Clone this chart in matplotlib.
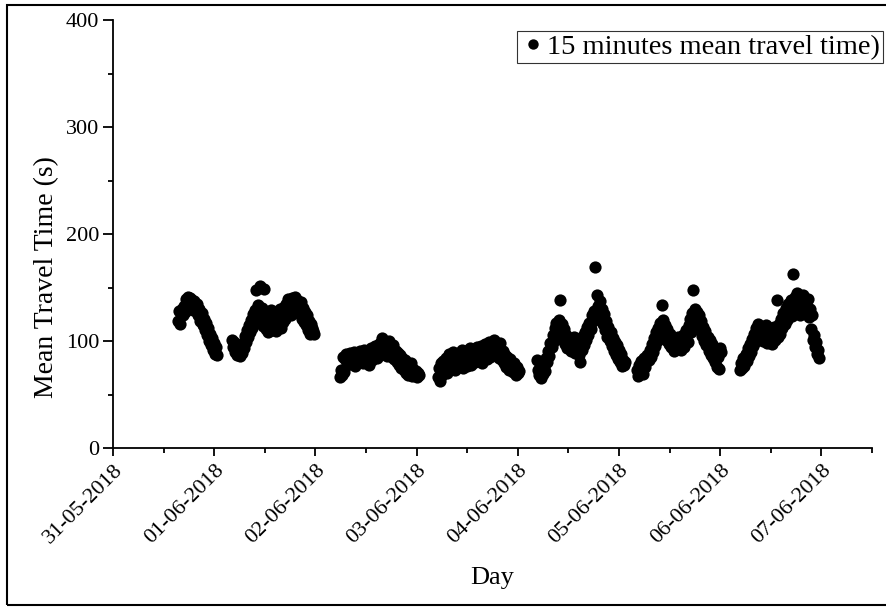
"""
15-minute mean travel time, 31-05-2018 .. 07-06-2018 (Origin-style scatter).
Writes out.png
"""
import numpy as np
import pandas as pd
import matplotlib
matplotlib.use("Agg")
import matplotlib.pyplot as plt
import matplotlib.dates as mdates
from matplotlib.patches import Rectangle

# ── data: one block per day, 15-min samples from the start time ─────────────
STEP = "15min"

start_a = "2018-05-31 15:30"
vals_a = [119, 128, 116, 130, 124, 133, 127, 139, 132, 141, 135, 140, 131, 138, 129, 137,
          132, 128, 135, 124, 130, 119, 126, 115, 121, 110, 117, 106, 112, 100, 107, 96,
          103, 92, 98, 88, 94, 87]

start_b = "2018-06-01 04:15"
vals_b = [101, 94, 99, 90, 96, 87, 92, 86, 95, 89,
          98, 93, 105, 99, 110, 104, 115, 108, 120, 112,
          125, 117, 129, 148, 121, 134, 151, 118, 131, 114,
          149, 123, 111, 127, 108, 124, 115, 129, 110, 121,
          113, 127, 109, 124, 116, 130, 112, 126, 118, 132,
          121, 135, 125, 139, 128, 134, 124, 140, 130, 137,
          141, 129, 138, 133, 125, 136, 121, 131, 118, 127,
          115, 124, 110, 119, 107, 116, 112, 109, 107]

start_c = "2018-06-02 05:45"
vals_c = [66, 73, 68, 85, 71, 83, 88, 78, 86, 81,
          89, 79, 87, 82, 90, 77, 86, 84, 80, 91,
          83, 87, 79, 92, 85, 81, 90, 84, 78, 88,
          93, 82, 89, 86, 95, 84, 91, 97, 87, 99,
          103, 92, 98, 88, 96, 86, 94, 100, 89, 93,
          85, 96, 83, 91, 80, 89, 78, 87, 75, 84,
          79, 73, 82, 70, 77, 68, 75, 71, 79, 67,
          74, 69, 72, 66, 70, 68]

start_d = "2018-06-03 05:00"
vals_d = [66, 75, 63, 79, 68, 81, 72, 77, 84, 70,
          80, 88, 74, 85, 78, 90, 73, 83, 87, 76,
          89, 79, 84, 92, 75, 86, 81, 91, 77, 88,
          83, 93, 78, 87, 90, 80, 85, 94, 82, 89,
          86, 95, 79, 91, 84, 97, 88, 83, 92, 99,
          85, 94, 90, 101, 87, 96, 89, 93, 84, 98,
          88, 82, 91, 79, 87, 76, 85, 80, 73, 83,
          77, 71, 79, 74, 68, 76, 70, 72]

start_e = "2018-06-04 04:30"
vals_e = [82, 73, 68, 79, 65, 75, 69, 77, 72, 84,
          80, 91, 86, 98, 94, 106, 100, 112, 117, 107,
          113, 120, 138, 109, 116, 101, 111, 97, 106, 93,
          103, 98, 91, 100, 95, 104, 89, 99, 94, 102,
          87, 80, 97, 92, 105, 96, 108, 101, 113, 106,
          117, 111, 124, 119, 128, 169, 122, 143, 133, 126,
          137, 121, 130, 116, 125, 110, 119, 104, 113, 100,
          108, 95, 103, 91, 99, 87, 96, 83, 92, 80,
          88, 77, 82, 78, 80]

start_f = "2018-06-05 04:15"
vals_f = [73, 67, 78, 70, 81, 74, 69, 84, 76, 80,
          87, 82, 92, 85, 97, 90, 103, 95, 108, 100,
          112, 104, 117, 109, 134, 120, 106, 115, 101, 111,
          97, 107, 94, 103, 99, 91, 101, 96, 93, 104,
          95, 100, 92, 98, 106, 94, 102, 110, 99, 115,
          121, 108, 126, 148, 118, 130, 114, 127, 120, 124,
          111, 119, 105, 113, 100, 109, 96, 104, 91, 101,
          87, 97, 84, 93, 80, 88, 76, 85, 74, 93, 90]

start_g = "2018-06-06 04:45"
vals_g = [73, 79, 75, 84, 77, 88, 81, 93, 86, 97,
          90, 102, 95, 107, 99, 112, 103, 116, 108, 113,
          104, 111, 100, 109, 115, 98, 107, 112, 102, 110,
          97, 108, 113, 101, 109, 138, 104, 116, 107, 121,
          112, 126, 116, 131, 120, 135, 125, 129, 138, 123,
          163, 132, 141, 127, 145, 130, 137, 124, 140, 131,
          143, 126, 135, 129, 139, 122, 130, 111, 124, 101,
          106, 94, 99, 88, 92, 84]

blocks = [(start_a, vals_a), (start_b, vals_b), (start_c, vals_c), (start_d, vals_d),
          (start_e, vals_e), (start_f, vals_f), (start_g, vals_g)]

frames = [pd.DataFrame({"time": pd.date_range(s, periods=len(v), freq=STEP), "tt": v})
          for s, v in blocks]
df = pd.concat(frames, ignore_index=True)

X_MIN, X_MAX = pd.Timestamp("2018-05-31 00:00"), pd.Timestamp("2018-06-07 12:00")

# ── style ────────────────────────────────────────────────────────────────────
plt.rcParams["font.family"] = ["Liberation Serif", "DejaVu Serif"]

fig = plt.figure(figsize=(8.87, 6.09), dpi=100)
ax = fig.add_axes([113 / 887, 1 - 448 / 609, (872 - 113) / 887, (448 - 20) / 609])

ax.plot(df["time"], df["tt"], "o", color="black", ms=8.8, mew=0,
        label="15 minutes mean travel time)")

ax.set_xlim(X_MIN, X_MAX)
ax.set_ylim(0, 400)

ax.xaxis.set_major_locator(mdates.DayLocator())
ax.xaxis.set_minor_locator(mdates.HourLocator(byhour=[12]))
ax.xaxis.set_major_formatter(mdates.DateFormatter("%d-%m-%Y"))
ax.set_yticks([0, 100, 200, 300, 400])
ax.set_yticks(np.arange(50, 400, 100), minor=True)

for side in ("top", "right"):
    ax.spines[side].set_visible(False)
for side in ("left", "bottom"):
    ax.spines[side].set_linewidth(1.3)

ax.tick_params(axis="both", which="major", direction="out", length=6, width=1.3,
               labelsize=16)
ax.tick_params(axis="both", which="minor", direction="out", length=3.5, width=1.3)
ax.tick_params(axis="y", which="major", length=7, pad=3)

for lab in ax.get_xticklabels():
    lab.set_rotation(45)
    lab.set_ha("right")
    lab.set_va("top")
    lab.set_rotation_mode("anchor")

ax.set_xlabel("Day", fontsize=19)
ax.set_ylabel("Mean Travel Time (s)", fontsize=20)
ax.xaxis.set_label_coords(0.5, -0.278)
ax.yaxis.set_label_coords(-0.071, 0.40)

leg = ax.legend(loc="upper left", bbox_to_anchor=(517 / 887, 1 - 31 / 609),
                bbox_transform=fig.transFigure, fontsize=20.5, frameon=True,
                fancybox=False, borderpad=0.1, handletextpad=0.05, handlelength=0.9,
                markerscale=0.85, borderaxespad=0)
leg.get_frame().set_edgecolor("black")
leg.get_frame().set_linewidth(0.8)

# outer border of the exported graph page
fig.patches.append(Rectangle((7 / 887, 1 - 605 / 609), 1.0, 600 / 609,
                             transform=fig.transFigure, fill=False,
                             edgecolor="black", linewidth=1.5))

fig.savefig("out.png", dpi=100)
